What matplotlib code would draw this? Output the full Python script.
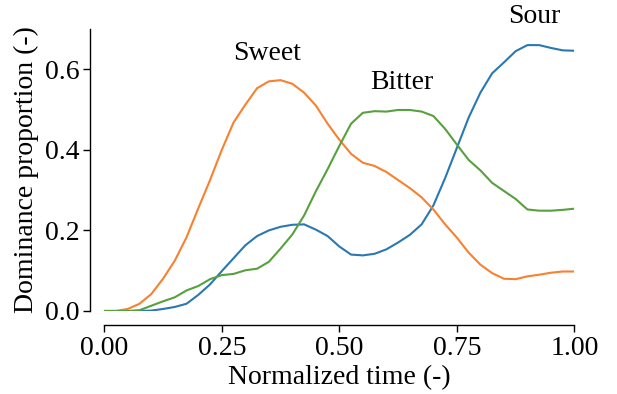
import numpy as np
import matplotlib
matplotlib.use("Agg")
import matplotlib.pyplot as plt

time = [i * 0.025 for i in range(41)]

sweet = [0, 0, 0.005, 0.018, 0.042, 0.08, 0.125, 0.183, 0.255, 0.325,
         0.40, 0.468, 0.512, 0.553, 0.570, 0.573, 0.564, 0.542, 0.510, 0.465,
         0.425, 0.390, 0.368, 0.360, 0.345, 0.325, 0.305, 0.282, 0.252, 0.215,
         0.182, 0.145, 0.115, 0.094, 0.080, 0.079, 0.086, 0.090, 0.095, 0.098, 0.098]

bitter = [0, 0, 0, 0.002, 0.013, 0.024, 0.034, 0.051, 0.062, 0.079,
          0.089, 0.092, 0.101, 0.105, 0.122, 0.155, 0.19, 0.237, 0.297, 0.352,
          0.41, 0.465, 0.492, 0.496, 0.495, 0.499, 0.499, 0.495, 0.484, 0.452,
          0.413, 0.375, 0.349, 0.318, 0.298, 0.278, 0.252, 0.249, 0.249, 0.251, 0.254]

sour = [0, 0, 0, 0, 0.001, 0.005, 0.010, 0.018, 0.040, 0.066,
        0.099, 0.131, 0.163, 0.186, 0.200, 0.209, 0.214, 0.215, 0.202, 0.186,
        0.160, 0.140, 0.138, 0.142, 0.153, 0.170, 0.189, 0.215, 0.262, 0.330,
        0.405, 0.480, 0.542, 0.590, 0.617, 0.645, 0.660, 0.660, 0.653, 0.647, 0.646]

labels = {"Sweet": (0.346, 0.64), "Bitter": (0.632, 0.568), "Sour": (0.915, 0.73)}
xticks = [0.00, 0.25, 0.50, 0.75, 1.00]
yticks = [0.0, 0.2, 0.4, 0.6]

plt.rcParams['font.family'] = ['Liberation Serif', 'DejaVu Serif']

fig = plt.figure(figsize=(6.17, 3.94), dpi=100)
ax = fig.add_axes([0.169, 0.2107, 0.762, 0.7157])

ax.plot(time, sour, color='#2a78b2', lw=1.5)
ax.plot(time, sweet, color='#f7812f', lw=1.5)
ax.plot(time, bitter, color='#58a03e', lw=1.5)

for name, (x, y) in labels.items():
    ax.text(x, y, name, ha='center', va='center', fontsize=20, clip_on=False)

ax.set_xlim(0, 1)
ax.set_ylim(0, 0.7)
ax.set_xticks(xticks)
ax.set_xticklabels([f"{v:.2f}" for v in xticks])
ax.set_yticks(yticks)
ax.set_yticklabels([f"{v:.1f}" for v in yticks])
ax.tick_params(labelsize=20, length=5, width=1, direction='out', color='black', pad=3)
ax.set_xlabel("Normalized time (-)", fontsize=20, labelpad=3)
ax.set_ylabel("Dominance proportion (-)", fontsize=20, labelpad=4)

for s in ['top', 'right']:
    ax.spines[s].set_visible(False)
ax.spines['left'].set_position(('outward', 10))
ax.spines['bottom'].set_position(('outward', 10))
ax.spines['left'].set_linewidth(1)
ax.spines['bottom'].set_linewidth(1)

fig.savefig("out.png", dpi=100)
